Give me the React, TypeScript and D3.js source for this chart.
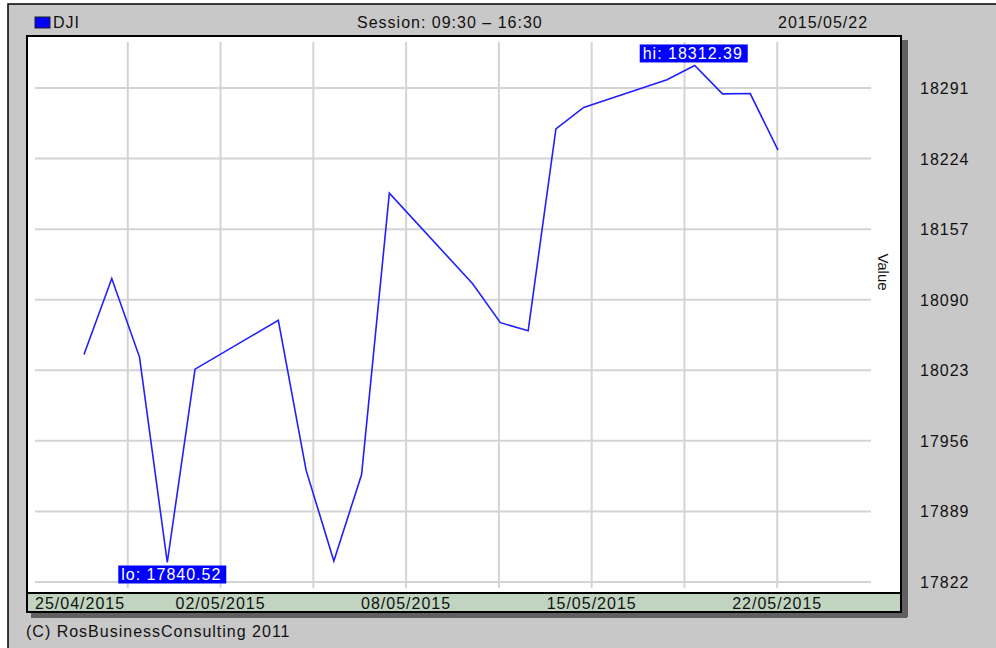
import React from 'react';
import * as d3 from 'd3';

// DJI daily closes, 27/04/2015 - 22/05/2015
const dates = [
    '2015-04-27', '2015-04-28', '2015-04-29', '2015-04-30', '2015-05-01',
    '2015-05-04', '2015-05-05', '2015-05-06', '2015-05-07', '2015-05-08',
    '2015-05-11', '2015-05-12', '2015-05-13', '2015-05-14', '2015-05-15',
    '2015-05-18', '2015-05-19', '2015-05-20', '2015-05-21', '2015-05-22',
];
const closes = [
    18037.97, 18110.14, 18035.53, 17840.52, 18024.06,
    18070.40, 17928.20, 17841.98, 17924.06, 18191.11,
    18105.17, 18068.23, 18060.49, 18252.24, 18272.56,
    18298.88, 18312.39, 18285.40, 18285.74, 18232.02,
];
const yTicks = [17822, 17889, 17956, 18023, 18090, 18157, 18224, 18291];
const xTickLabels = ['25/04/2015', '02/05/2015', '08/05/2015', '15/05/2015', '22/05/2015'];
const seriesName = 'DJI';
const sessionText = 'Session: 09:30 \u2013 16:30';
const dateText = '2015/05/22';
const footerText = '(C) RosBusinessConsulting 2011';

const FONT = '"Liberation Sans", Arial, sans-serif';

export default function App() {
    const width = 996;
    const height = 648;

    // plot frame
    const frameL = 27, frameT = 36, frameR = 901, axisT = 593, axisB = 612;
    const gridL = 35, gridR = 871, gridT = 42, gridB = 588;

    const parse = d3.timeParse('%Y-%m-%d');
    const data = dates.map((d, i) => ({ date: parse(d) as Date, value: closes[i] }));

    const x = d3.scaleTime()
        .domain([data[0].date, data[data.length - 1].date])
        .range([84, 778]);
    const y = d3.scaleLinear()
        .domain([yTicks[0], yTicks[yTicks.length - 1]])
        .range([582, 88]);
    const gx = d3.scaleLinear().domain([0, 9]).range([gridL, gridR - 1]);

    const line = d3.line<{ date: Date; value: number }>()
        .x((d) => x(d.date))
        .y((d) => y(d.value));

    const hi = data[d3.maxIndex(data, (d) => d.value)];
    const lo = data[d3.minIndex(data, (d) => d.value)];

    const txt = { fontFamily: FONT, fontSize: 16, letterSpacing: 1, fill: '#111' } as const;

    return (
        <svg width={width} height={height}
            style={{ position: 'absolute', left: 0, top: 0, display: 'block', background: '#fff' }}>
            {/* outer panel */}
            <rect x={8} y={4} width={width} height={height} fill="#c8c8c8" stroke="#000" strokeWidth={1.5} />

            {/* header */}
            <rect x={35} y={17} width={15} height={11} fill="#0000ff" stroke="#202020" strokeWidth={1} />
            <text x={53} y={28} {...txt}>{seriesName}</text>
            <text x={357} y={28} {...txt}>{sessionText}</text>
            <text x={778} y={28} {...txt}>{dateText}</text>

            {/* shadow */}
            <rect x={frameR + 1} y={frameT + 4} width={6} height={axisB - frameT + 1} fill="#606060" />
            <rect x={frameL + 4} y={axisB + 1} width={frameR - frameL + 2} height={5} fill="#606060" />

            {/* plot area */}
            <rect x={frameL} y={frameT} width={frameR - frameL} height={axisT - frameT}
                fill="#fff" stroke="#000" strokeWidth={2} />

            {/* grid */}
            {yTicks.map((t) => (
                <line key={'h' + t} x1={gridL} x2={gridR} y1={y(t)} y2={y(t)} stroke="#d4d4d4" strokeWidth={2} />
            ))}
            {d3.range(1, 9).map((k) => (
                <line key={'v' + k} x1={gx(k)} x2={gx(k)} y1={gridT} y2={gridB} stroke="#d4d4d4" strokeWidth={2} />
            ))}

            {/* series */}
            <path d={line(data) ?? ''} fill="none" stroke="#2020ff" strokeWidth={1.6} />

            {/* hi / lo labels */}
            <rect x={x(hi.date) - 55} y={y(hi.value) - 21} width={108} height={18} fill="#0000ff" />
            <text x={x(hi.date) - 52} y={y(hi.value) - 6} {...txt} fill="#fff">{`hi: ${hi.value.toFixed(2)}`}</text>
            <rect x={x(lo.date) - 49} y={y(lo.value) + 3} width={108} height={18} fill="#0000ff" />
            <text x={x(lo.date) - 46} y={y(lo.value) + 18} {...txt} fill="#fff">{`lo: ${lo.value.toFixed(2)}`}</text>

            {/* x axis band */}
            <rect x={frameL} y={axisT} width={frameR - frameL} height={axisB - axisT}
                fill="#c0d4c0" stroke="#000" strokeWidth={2} />
            {xTickLabels.map((lab, i) => (
                <text key={lab} x={i === 0 ? gridL : gx(i * 2)} y={609}
                    textAnchor={i === 0 ? 'start' : 'middle'} {...txt}>{lab}</text>
            ))}

            {/* y axis labels */}
            {yTicks.map((t) => (
                <text key={'l' + t} x={920} y={y(t) + 6} {...txt}>{t}</text>
            ))}
            <text transform="translate(878,272) rotate(90)" textAnchor="middle"
                fontFamily={FONT} fontSize={15} fill="#111">Value</text>

            {/* footer */}
            <text x={26} y={637} {...txt}>{footerText}</text>
        </svg>
    );
}
